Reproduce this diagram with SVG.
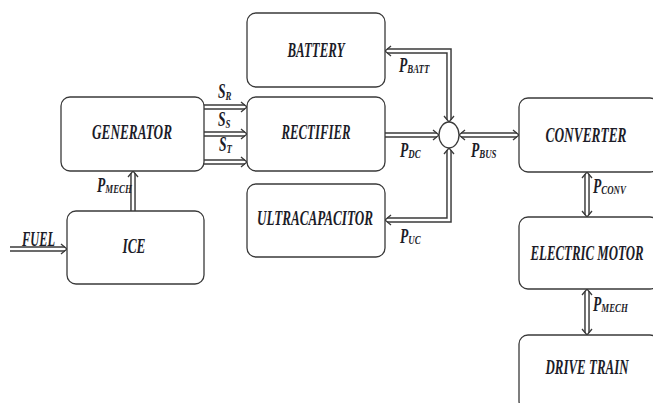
<svg xmlns="http://www.w3.org/2000/svg" width="653" height="403" viewBox="0 0 653 403">
<style>
.box{fill:#fff;stroke:#3a3a3a;stroke-width:1.3}
.t{font-family:"Liberation Serif",serif;font-weight:bold;font-style:italic;font-size:20px;fill:#1c1c28;text-anchor:middle}
.l{font-family:"Liberation Serif",serif;font-weight:bold;font-style:italic;font-size:20px;fill:#1c1c28}
.sub{font-size:13px}
.wo{fill:none;stroke:#3a3a3a;stroke-width:5.5;stroke-linejoin:miter}
.wi{fill:none;stroke:#fff;stroke-width:2.6;stroke-linejoin:miter}
.ch{fill:none;stroke:#3a3a3a;stroke-width:1.3;stroke-linejoin:miter}
</style>
<rect width="653" height="403" fill="#fff"/>
<g id="connectors">
<g id="wires-outer" class="wo">
<path d="M204,107H245M204,134H245M204,162H245"/>
<path d="M385,135H437"/>
<path d="M387,51H449V120"/>
<path d="M387,220H449V150"/>
<path d="M461,135H517"/>
<path d="M133,211V173"/>
<path d="M10,249H65"/>
<path d="M587,174V215"/>
<path d="M587,291V333"/>
</g>
<g id="wires-inner" class="wi">
<path d="M204,107H245M204,134H245M204,162H245"/>
<path d="M385,135H437"/>
<path d="M387,51H449V120"/>
<path d="M387,220H449V150"/>
<path d="M461,135H517"/>
<path d="M133,211V173"/>
<path d="M10,249H65"/>
<path d="M587,174V215"/>
<path d="M587,291V333"/>
</g>
<g id="chevrons" class="ch">
<path d="M241,102L247,107L241,112M241,129L247,134L241,139M241,157L247,162L241,167"/>
<path d="M433,130L439,135L433,140"/>
<path d="M391,46L385,51L391,56"/>
<path d="M444,116L449,122L454,116"/>
<path d="M391,215L385,220L391,225"/>
<path d="M444,154L449,148L454,154"/>
<path d="M465,130L459,135L465,140"/>
<path d="M513,130L519,135L513,140"/>
<path d="M128,177L133,171L138,177"/>
<path d="M61,244L67,249L61,254"/>
<path d="M582,178L587,172L592,178M582,211L587,217L592,211"/>
<path d="M582,295L587,289L592,295M582,329L587,335L592,329"/>
</g>
<ellipse cx="449" cy="135" rx="10" ry="13" fill="#fff" stroke="#3a3a3a" stroke-width="1.3"/>
</g>
<g id="battery"><rect class="box" x="247" y="13" width="138" height="74" rx="9"/><text class="t" x="316" y="57" textLength="57" lengthAdjust="spacingAndGlyphs">BATTERY</text></g>
<g id="rectifier"><rect class="box" x="247" y="97" width="138" height="74" rx="9"/><text class="t" x="316" y="139" textLength="69" lengthAdjust="spacingAndGlyphs">RECTIFIER</text></g>
<g id="ultracapacitor"><rect class="box" x="247" y="184" width="138" height="73" rx="9"/><text class="t" x="315" y="225" textLength="116" lengthAdjust="spacingAndGlyphs">ULTRACAPACITOR</text></g>
<g id="generator"><rect class="box" x="61" y="97" width="143" height="74" rx="9"/><text class="t" x="132" y="139" textLength="80" lengthAdjust="spacingAndGlyphs">GENERATOR</text></g>
<g id="ice"><rect class="box" x="67" y="211" width="137" height="73" rx="9"/><text class="t" x="134" y="253" textLength="23" lengthAdjust="spacingAndGlyphs">ICE</text></g>
<g id="converter"><rect class="box" x="519" y="98" width="140" height="74" rx="9"/><text class="t" x="586" y="142" textLength="81" lengthAdjust="spacingAndGlyphs">CONVERTER</text></g>
<g id="electric-motor"><rect class="box" x="519" y="217" width="140" height="72" rx="9"/><text class="t" x="587" y="260" textLength="113" lengthAdjust="spacingAndGlyphs">ELECTRIC MOTOR</text></g>
<g id="drive-train"><rect class="box" x="519" y="335" width="140" height="75" rx="9"/><text class="t" x="587" y="374" textLength="83" lengthAdjust="spacingAndGlyphs">DRIVE TRAIN</text></g>
<g id="labels">
<text class="l" transform="translate(22,246) scale(0.62,1)">FUEL</text>
<text class="l" transform="translate(218,98) scale(0.68,1)">S<tspan class="sub" dy="2">R</tspan></text>
<text class="l" transform="translate(218,126) scale(0.68,1)">S<tspan class="sub" dy="2">S</tspan></text>
<text class="l" transform="translate(219,151) scale(0.68,1)">S<tspan class="sub" dy="2">T</tspan></text>
<text class="l" transform="translate(399,72) scale(0.68,1)">P<tspan class="sub" dy="1">BATT</tspan></text>
<text class="l" transform="translate(400,157) scale(0.68,1)">P<tspan class="sub" dy="1">DC</tspan></text>
<text class="l" transform="translate(471,157) scale(0.68,1)">P<tspan class="sub" dy="1">BUS</tspan></text>
<text class="l" transform="translate(400,243) scale(0.68,1)">P<tspan class="sub" dy="1">UC</tspan></text>
<text class="l" transform="translate(97,192) scale(0.68,1)">P<tspan class="sub" dy="1">MECH</tspan></text>
<text class="l" transform="translate(593,193) scale(0.68,1)">P<tspan class="sub" dy="1">CONV</tspan></text>
<text class="l" transform="translate(593,311) scale(0.68,1)">P<tspan class="sub" dy="1">MECH</tspan></text>
</g>
</svg>
